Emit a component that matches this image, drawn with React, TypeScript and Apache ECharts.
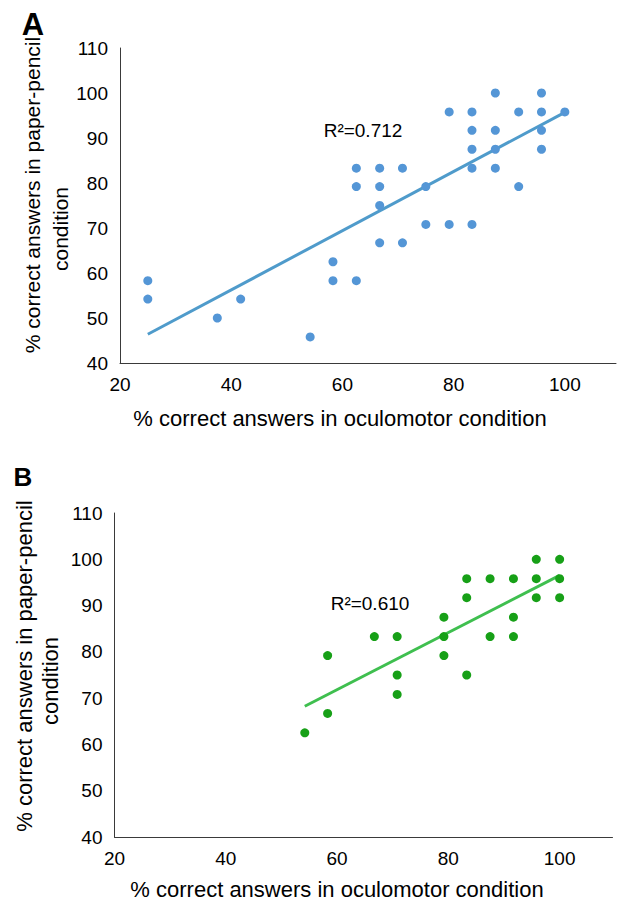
import React, { useEffect, useRef } from "react";
import * as echarts from "echarts";

// Panel A: % correct in oculomotor condition (x) vs paper-pencil condition (y)
const oculomotorA = [87.5, 95.8, 79.2, 83.3, 91.7, 95.8, 100, 83.3, 87.5, 95.8, 83.3, 87.5, 95.8, 62.5, 66.7, 70.8, 83.3, 87.5, 62.5, 66.7, 75, 91.7, 66.7, 75, 79.2, 83.3, 66.7, 70.8, 58.3, 58.3, 62.5, 25, 25, 41.7, 37.5, 54.2];
const paperPencilA = [100, 100, 95.8, 95.8, 95.8, 95.8, 95.8, 91.7, 91.7, 91.7, 87.5, 87.5, 87.5, 83.3, 83.3, 83.3, 83.3, 83.3, 79.2, 79.2, 79.2, 79.2, 75, 70.8, 70.8, 70.8, 66.7, 66.7, 62.5, 58.3, 58.3, 58.3, 54.2, 54.2, 50, 45.8];

// Panel B
const oculomotorB = [95.8, 100, 83.3, 87.5, 91.7, 95.8, 100, 83.3, 95.8, 100, 79.2, 91.7, 66.7, 70.8, 79.2, 87.5, 91.7, 58.3, 79.2, 70.8, 83.3, 70.8, 58.3, 54.2];
const paperPencilB = [100, 100, 95.8, 95.8, 95.8, 95.8, 95.8, 91.7, 91.7, 91.7, 87.5, 87.5, 83.3, 83.3, 83.3, 83.3, 83.3, 79.2, 79.2, 75, 75, 70.8, 66.7, 62.5];

const r2Labels = ["R²=0.712", "R²=0.610"];
const panelLetters = ["A", "B"];
const xTitle = "% correct answers in oculomotor condition";
const yTitleLines = ["% correct answers in paper-pencil", "condition"];

function fit(xs: number[], ys: number[]) {
  const n = xs.length;
  const mx = xs.reduce((a, b) => a + b, 0) / n;
  const my = ys.reduce((a, b) => a + b, 0) / n;
  let sxy = 0, sxx = 0;
  for (let i = 0; i < n; i++) {
    sxy += (xs[i] - mx) * (ys[i] - my);
    sxx += (xs[i] - mx) * (xs[i] - mx);
  }
  const b = sxy / sxx;
  const a = my - b * mx;
  const x0 = Math.min(...xs), x1 = Math.max(...xs);
  return [[x0, a + b * x0], [x1, a + b * x1]];
}

const FONT = "'Liberation Sans', Arial, sans-serif";

export default function App() {
  const ref = useRef<HTMLDivElement>(null);
  useEffect(() => {
    if (!ref.current) return;
    const chart = echarts.init(ref.current, null, { renderer: "svg" });
    const axisLine = { show: true, lineStyle: { color: "#3a3a3a", width: 1 } };
    const xAxisBase = {
      type: "value",
      min: 20,
      max: 110,
      interval: 20,
      axisLine,
      axisTick: { show: false },
      splitLine: { show: false },
      axisLabel: {
        color: "#000",
        fontSize: 19,
        fontFamily: FONT,
        margin: 12,
        formatter: (v: number) => (v > 100 ? "" : String(v)),
      },
    };
    const yAxisBase = {
      type: "value",
      min: 40,
      max: 110,
      interval: 10,
      axisLine,
      axisTick: { show: false },
      splitLine: { show: false },
      axisLabel: { color: "#000", fontSize: 19, fontFamily: FONT, margin: 12 },
    };
    const textStyle = (size: number, extra: any = {}) => ({
      fill: "#000",
      font: `${size}px ${FONT}`,
      textAlign: "center",
      textVerticalAlign: "middle",
      ...extra,
    });
    chart.setOption({
      animation: false,
      grid: [
        { left: 120, top: 48, width: 496, height: 315 },
        { left: 114.5, top: 513, width: 498, height: 324 },
      ],
      xAxis: [
        { ...xAxisBase, gridIndex: 0, max: 109.2 },
        { ...xAxisBase, gridIndex: 1, max: 109.5 },
      ],
      yAxis: [
        { ...yAxisBase, gridIndex: 0 },
        { ...yAxisBase, gridIndex: 1 },
      ],
      series: [
        {
          type: "line",
          xAxisIndex: 0,
          yAxisIndex: 0,
          data: fit(oculomotorA, paperPencilA),
          symbol: "none",
          lineStyle: { color: "#4f9bcb", width: 3 },
          z: 1,
        },
        {
          type: "scatter",
          xAxisIndex: 0,
          yAxisIndex: 0,
          data: oculomotorA.map((x, i) => [x, paperPencilA[i]]),
          symbolSize: 9,
          itemStyle: { color: "#5496d6", opacity: 1 },
          z: 2,
        },
        {
          type: "line",
          xAxisIndex: 1,
          yAxisIndex: 1,
          data: fit(oculomotorB, paperPencilB),
          symbol: "none",
          lineStyle: { color: "#3fbf4f", width: 3 },
          z: 1,
        },
        {
          type: "scatter",
          xAxisIndex: 1,
          yAxisIndex: 1,
          data: oculomotorB.map((x, i) => [x, paperPencilB[i]]),
          symbolSize: 9,
          itemStyle: { color: "#17a017", opacity: 1 },
          z: 2,
        },
      ],
      graphic: [
        { type: "text", x: 33, y: 24, style: textStyle(31, { font: `bold 31px ${FONT}`, text: panelLetters[0] }) },
        { type: "text", x: 23, y: 477, style: textStyle(26, { font: `bold 26px ${FONT}`, text: panelLetters[1] }) },
        { type: "text", x: 363, y: 130, style: textStyle(19, { text: r2Labels[0] }) },
        { type: "text", x: 370, y: 603, style: textStyle(19, { text: r2Labels[1] }) },
        { type: "text", x: 340, y: 418, style: textStyle(22, { text: xTitle }) },
        { type: "text", x: 337, y: 889, style: textStyle(22, { text: xTitle }) },
        { type: "text", x: 32, y: 195, rotation: Math.PI / 2, style: textStyle(21, { text: yTitleLines[0] }) },
        { type: "text", x: 60, y: 229, rotation: Math.PI / 2, style: textStyle(21, { text: yTitleLines[1] }) },
        { type: "text", x: 24, y: 666, rotation: Math.PI / 2, style: textStyle(22, { text: yTitleLines[0] }) },
        { type: "text", x: 50, y: 681, rotation: Math.PI / 2, style: textStyle(22, { text: yTitleLines[1] }) },
      ],
    });
    return () => chart.dispose();
  }, []);
  return (
    <div
      ref={ref}
      style={{ position: "absolute", left: 0, top: 0, width: 624, height: 901, background: "#fff" }}
    />
  );
}
